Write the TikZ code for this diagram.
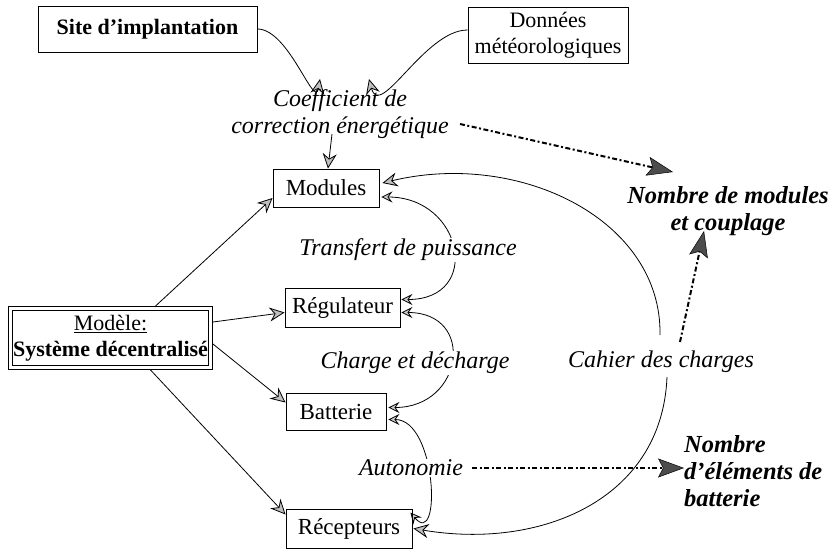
\documentclass[tikz,border=0pt]{standalone}
\usepackage{fontspec}
\setmainfont{Liberation Serif}
\usetikzlibrary{arrows.meta,calc,backgrounds}
\begin{document}
\begin{tikzpicture}[x=1pt,y=-1pt,
  box/.style={draw, line width=0.9pt, inner sep=0pt, font=\fontsize{23}{26}\selectfont, align=center},
  lab/.style={inner sep=1pt, fill=white, font=\fontsize{24}{27}\selectfont\itshape, align=center},
  res/.style={inner sep=0pt, font=\fontsize{24.5}{27}\selectfont\bfseries\itshape},
  arr/.style={line width=0.8pt, -{Stealth[length=15pt,width=14pt,inset=5pt,fill=gray!50]}},
  biarr/.style={line width=0.8pt, {Stealth[length=11pt,width=11pt,inset=4pt,fill=gray!40]}-{Stealth[length=11pt,width=11pt,inset=4pt,fill=gray!40]}},
  dd/.style={line width=2pt, dash pattern=on 5pt off 2.5pt on 2pt off 2.5pt, -{Stealth[length=26pt,width=19pt,inset=5pt,fill=gray!60!black,line width=0.5pt]}}
]
\useasboundingbox (0,0) rectangle (834,551);

\node[box, minimum width=219pt, minimum height=46pt, font=\fontsize{22}{26}\selectfont\bfseries] (site) at (147.5,29) {Site d'implantation};
\node[box, minimum width=160pt, minimum height=56pt, font=\fontsize{22}{26}\selectfont] (don) at (548,35) {Données\\météorologiques};
\node[lab, fill=none] (coef) at (340,114) {Coefficient de\\correction énergétique};
\node[box, minimum width=106pt, minimum height=38pt] (mod) at (326,188) {Modules};
\node[box, minimum width=115pt, minimum height=39pt] (reg) at (342.5,307.5) {Régulateur};
\node[box, minimum width=100pt, minimum height=37pt] (bat) at (336,411.5) {Batterie};
\node[box, minimum width=126pt, minimum height=39pt] (rec) at (349,528.5) {Récepteurs};
\node[box, double, double distance=3pt, minimum width=200pt, minimum height=59pt, font=\fontsize{22}{26}\selectfont] (model) at (110.5,338) {\underline{Modèle:}\\{\bfseries Système décentralisé}};

\node[lab] (tr) at (408,250) {Transfert de puissance};
\node[lab] (ch) at (415,363) {Charge et décharge};
\node[lab] (au) at (411,468) {Autonomie};
\node[lab] (cah) at (661,362) {Cahier des charges};
\node[res, align=center] (nbm) at (728,211) {Nombre de modules\\et couplage};
\node[res, align=left, anchor=west] (nbb) at (684,471) {Nombre\\d'éléments de\\batterie};

\coordinate (c1) at (320,79);
\coordinate (c2) at (369,79);
\coordinate (c3) at (332,134);
\coordinate (cahtop) at (660,335);
\coordinate (cahbot) at (667,377);
\coordinate (d1) at (460,124);
\coordinate (t1) at (673,172);
\coordinate (t2) at (704,231);

\begin{scope}[on background layer]
\draw[arr] (site.east) to[out=0,in=-100] (c1);
\draw[arr] ($(don.west)+(0,-5)$) to[out=180,in=-75] (c2);
\draw[arr] (c3) -- ($(mod.north)+(2,0)$);

\draw[arr] ($(model.north)+(45,-2)$) -- ($(mod.west)+(0,10)$);
\draw[arr] ($(model.east)+(2,-16)$) -- ($(reg.west)+(0,5)$);
\draw[arr] ($(model.east)+(2,6)$) -- ($(bat.west)+(0,-9)$);
\draw[arr] ($(model.south)+(40,2)$) -- ($(rec.west)+(0,-14)$);

\draw[biarr] ($(mod.east)+(2,9)$) to[out=0,in=0,looseness=2] ($(reg.east)+(1,-8)$);
\draw[biarr] ($(reg.east)+(1,5)$) to[out=0,in=0,looseness=2] ($(bat.east)+(2,-4)$);
\draw[biarr] ($(bat.east)+(2,8)$) to[out=0,in=-50,looseness=1.3] ($(rec.north east)+(-2,4)$);

\draw[arr] (cahtop) .. controls (662,220) and (520,150) .. ($(mod.east)+(3,-5)$);
\draw[arr] (cahbot) .. controls (662,500) and (540,550) .. ($(rec.east)+(1,0)$);
\end{scope}

\draw[dd] (d1) -- (t1);
\draw[dd] ($(cah.north)+(19,-8)$) -- (t2);
\draw[dd] ($(au.east)+(8,0)$) -- ($(nbb.west)+(0,-3)$);
\end{tikzpicture}
\end{document}
